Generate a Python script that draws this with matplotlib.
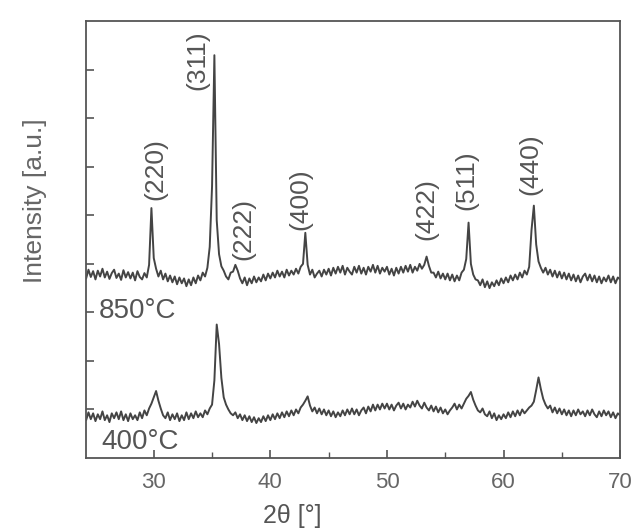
import numpy as np
import matplotlib
matplotlib.use('Agg')
import matplotlib.pyplot as plt

# ============== 数据 (读自原图, 2θ 步长 0.2°) ==============
two_theta = np.linspace(24, 70, 231)

# 850°C 样品
i_850 = [
    3.80, 3.70, 3.88, 3.73, 3.85,  # 24
    3.68, 3.86, 3.74, 3.90, 3.72,  # 25
    3.84, 3.69, 3.81, 3.88, 3.71,  # 26
    3.80, 3.67, 3.87, 3.72, 3.83,  # 27
    3.70, 3.82, 3.66, 3.85, 3.73,  # 28
    3.68, 3.81, 3.72, 3.98, 5.15,  # 29
    4.12, 3.90, 3.74, 3.86, 3.68,  # 30
    3.80, 3.64, 3.76, 3.62, 3.74,  # 31
    3.58, 3.72, 3.60, 3.70, 3.54,  # 32
    3.68, 3.56, 3.72, 3.60, 3.76,  # 33
    3.66, 3.82, 3.74, 3.92, 4.35,  # 34
    5.60, 8.30, 4.90, 4.20, 3.95,  # 35
    3.86, 3.74, 3.68, 3.82, 3.84,  # 36
    3.98, 3.86, 3.70, 3.60, 3.72,  # 37
    3.56, 3.70, 3.60, 3.74, 3.62,  # 38
    3.72, 3.64, 3.78, 3.66, 3.80,  # 39
    3.70, 3.82, 3.72, 3.86, 3.74,  # 40
    3.84, 3.72, 3.88, 3.76, 3.86,  # 41
    3.78, 3.90, 3.80, 3.94, 4.00,  # 42
    4.64, 3.98, 3.78, 3.88, 3.72,  # 43
    3.80, 3.86, 3.74, 3.88, 3.78,  # 44
    3.90, 3.76, 3.92, 3.80, 3.94,  # 45
    3.82, 3.96, 3.78, 3.92, 3.84,  # 46
    3.78, 3.94, 3.82, 3.96, 3.80,  # 47
    3.92, 3.78, 3.94, 3.84, 3.98,  # 48
    3.82, 3.96, 3.80, 3.92, 3.84,  # 49
    3.94, 3.78, 3.90, 3.76, 3.92,  # 50
    3.80, 3.94, 3.82, 3.96, 3.84,  # 51
    3.98, 3.82, 3.94, 3.86, 4.00,  # 52
    3.90, 3.98, 4.15, 3.96, 3.82,  # 53
    3.82, 3.72, 3.84, 3.70, 3.80,  # 54
    3.68, 3.80, 3.66, 3.78, 3.64,  # 55
    3.76, 3.66, 3.82, 3.88, 4.10,  # 56
    4.85, 4.00, 3.78, 3.68, 3.66,  # 57
    3.56, 3.68, 3.52, 3.64, 3.50,  # 58
    3.62, 3.54, 3.66, 3.56, 3.70,  # 59
    3.60, 3.72, 3.62, 3.76, 3.66,  # 60
    3.78, 3.68, 3.82, 3.72, 3.86,  # 61
    3.78, 3.94, 4.70, 5.20, 4.40,  # 62
    4.05, 3.92, 3.82, 3.92, 3.78,  # 63
    3.88, 3.74, 3.86, 3.72, 3.84,  # 64
    3.70, 3.82, 3.68, 3.80, 3.66,  # 65
    3.78, 3.64, 3.76, 3.62, 3.74,  # 66
    3.80, 3.66, 3.78, 3.64, 3.76,  # 67
    3.62, 3.74, 3.60, 3.72, 3.64,  # 68
    3.76, 3.62, 3.74, 3.60, 3.72,  # 69
    3.68,                          # 70
]

# 400°C 样品
i_400 = [
    0.88, 0.78, 0.94, 0.80, 0.92,  # 24
    0.76, 0.90, 0.80, 0.96, 0.78,  # 25
    0.88, 0.74, 0.92, 0.82, 0.94,  # 26
    0.80, 0.96, 0.78, 0.90, 0.76,  # 27
    0.92, 0.80, 0.88, 0.78, 0.94,  # 28
    0.82, 0.98, 0.88, 1.02, 1.12,  # 29
    1.25, 1.38, 1.18, 1.02, 0.88,  # 30
    0.82, 0.94, 0.78, 0.90, 0.80,  # 31
    0.92, 0.76, 0.88, 0.78, 0.94,  # 32
    0.80, 0.92, 0.82, 0.96, 0.84,  # 33
    0.92, 0.84, 0.98, 0.90, 1.02,  # 34
    1.10, 1.60, 2.75, 2.35, 1.65,  # 35
    1.25, 1.10, 1.00, 0.92, 0.88,  # 36
    0.94, 0.82, 0.90, 0.78, 0.88,  # 37
    0.76, 0.86, 0.74, 0.84, 0.72,  # 38
    0.82, 0.74, 0.86, 0.76, 0.88,  # 39
    0.78, 0.90, 0.80, 0.92, 0.82,  # 40
    0.94, 0.84, 0.96, 0.86, 0.98,  # 41
    0.88, 1.00, 0.92, 1.04, 1.10,  # 42
    1.18, 1.27, 1.08, 0.96, 1.04,  # 43
    0.92, 1.02, 0.90, 1.00, 0.88,  # 44
    0.98, 0.86, 0.96, 0.84, 0.94,  # 45
    0.86, 0.98, 0.88, 1.00, 0.90,  # 46
    1.02, 0.90, 1.00, 0.88, 0.98,  # 47
    1.04, 0.92, 1.06, 0.96, 1.10,  # 48
    0.98, 1.10, 1.00, 1.12, 1.02,  # 49
    1.12, 1.00, 1.10, 0.98, 1.08,  # 50
    1.14, 1.02, 1.12, 1.00, 1.10,  # 51
    1.04, 1.16, 1.06, 1.18, 1.08,  # 52
    1.02, 1.14, 1.04, 0.98, 1.08,  # 53
    0.96, 1.06, 0.94, 1.04, 0.92,  # 54
    1.00, 0.90, 0.98, 1.04, 1.12,  # 55
    1.00, 1.10, 1.02, 1.12, 1.22,  # 56
    1.28, 1.36, 1.20, 1.08, 0.98,  # 57
    0.94, 1.02, 0.90, 0.86, 0.96,  # 58
    0.82, 0.92, 0.78, 0.88, 0.80,  # 59
    0.90, 0.82, 0.94, 0.84, 0.96,  # 60
    0.86, 0.98, 0.88, 1.00, 0.92,  # 61
    0.98, 1.04, 1.08, 1.16, 1.40,  # 62
    1.66, 1.42, 1.22, 1.10, 1.02,  # 63
    1.08, 0.94, 1.04, 0.92, 1.02,  # 64
    0.90, 1.00, 0.88, 0.98, 0.86,  # 65
    0.98, 0.88, 1.00, 0.90, 0.96,  # 66
    0.86, 0.98, 0.88, 1.00, 0.90,  # 67
    0.84, 0.96, 0.86, 0.98, 0.88,  # 68
    0.96, 0.84, 0.94, 0.82, 0.92,  # 69
    0.88,                          # 70
]

# 衍射峰标注: (hkl, 2θ 位置, 标签底部高度)
peak_hkl = ['(220)', '(311)', '(222)', '(400)', '(422)', '(511)', '(440)']
peak_pos = [30.1, 33.7, 37.7, 42.6, 53.35, 56.8, 62.3]
peak_lab_y = [5.32, 7.58, 4.09, 4.70, 4.50, 5.11, 5.42]

temp_labels = ['850°C', '400°C']
temp_pos = [(25.3, 3.02), (25.5, 0.33)]

# ============== 绘图 ==============
plt.rcParams['font.family'] = ['Liberation Sans', 'DejaVu Sans']
INK = '#555555'

fig = plt.figure(figsize=(6.38, 5.31), dpi=100, facecolor='white')
ax = fig.add_axes([0.135, 0.1375, 0.837, 0.8225])

ax.plot(two_theta, i_850, color='#444444', linewidth=1.4)
ax.plot(two_theta, i_400, color='#444444', linewidth=1.4)

for lab, x, y in zip(peak_hkl, peak_pos, peak_lab_y):
    ax.text(x, y, lab, rotation=90, ha='center', va='bottom',
            fontsize=19, color=INK)

for lab, (x, y) in zip(temp_labels, temp_pos):
    ax.text(x, y, lab, ha='left', va='center', fontsize=20, color=INK)

ax.set_xlim(24.2, 70)
ax.set_ylim(0, 9.0)
ax.set_xticks([30, 40, 50, 60, 70])
ax.set_xticks([35, 45, 55, 65], minor=True)
ax.set_yticks(range(1, 9))
ax.set_yticklabels([])

for sp in ax.spines.values():
    sp.set_color(INK)
    sp.set_linewidth(1.3)

ax.tick_params(axis='x', which='major', direction='in', length=6, width=1.2,
               colors=INK, labelcolor='#666666', labelsize=16, pad=10)
ax.tick_params(axis='x', which='minor', direction='in', length=4, width=1.0,
               colors=INK)
ax.tick_params(axis='y', direction='in', length=6, width=1.2, colors=INK)

fig.text(292 / 638, 1 - 516 / 531, '2θ [°]', ha='center', va='center',
         fontsize=18, color=INK)
fig.text(35 / 638, 1 - 201 / 531, 'Intensity [a.u.]', ha='center', va='center',
         rotation=90, fontsize=19, color='#666666')

fig.savefig('out.png', dpi=100, facecolor=fig.get_facecolor())
plt.close(fig)
